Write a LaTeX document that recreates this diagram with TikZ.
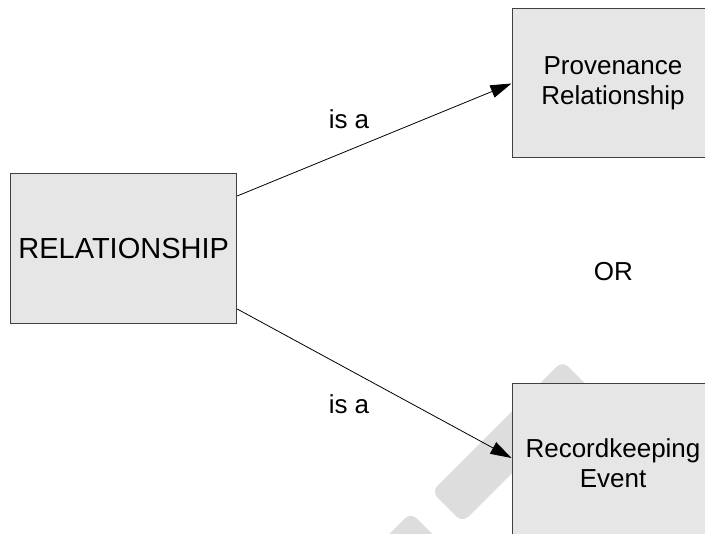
\documentclass[tikz,border=0pt]{standalone}
\usepackage{fontspec}
\setmainfont{Liberation Sans}
\usetikzlibrary{arrows.meta}
\definecolor{boxfill}{HTML}{E6E6E6}
\definecolor{boxline}{HTML}{404040}
\definecolor{mark}{HTML}{DDDDDD}
\begin{document}
\begin{tikzpicture}[x=1pt,y=-1pt,
  entity/.style={draw=boxline, line width=1pt, fill=boxfill, inner sep=0pt,
    minimum width=202pt, minimum height=149pt, align=center,
    font=\fontsize{26}{30}\selectfont},
  relbox/.style={entity, minimum width=226pt, minimum height=150pt,
    font=\fontsize{29}{33}\selectfont},
  lbl/.style={anchor=base, inner sep=0pt, font=\fontsize{26}{30}\selectfont},
  isa/.style={draw=black, line width=0.8pt,
    -{Triangle[length=21pt,width=13pt]}},
  stripe/.style={fill=mark, rounded corners=8pt}]
  \useasboundingbox (0,0) rectangle (705,534);
  \clip (0,0) rectangle (705,534);

  % faint diagonal stripes in the background
  \fill[stripe, rotate around={45:(512.5,441.7)}]
    (420,419.9) rectangle (605,463.5);
  \fill[stripe, rotate around={45:(360.9,593.4)}]
    (268.4,571.6) rectangle (453.4,615.2);

  % entities
  \node[relbox] (rel) at (123.7,249) {RELATIONSHIP};
  \node[entity] (prov) at (613,83.5) {Provenance\\Relationship};
  \node[entity, minimum height=160pt] (rk) at (613,464)
    {\raisebox{2pt}{Recordkeeping}\\\raisebox{2pt}{Event}};
  \coordinate (rkin) at ([yshift=6pt]rk.west);

  % labels
  \node[lbl] (isatop) at (349,129) {is a};
  \node[lbl] (isabot) at (349,413.3) {is a};
  \node[lbl] (or) at (613.4,280.7) {OR};

  % connectors
  \draw[isa] ([yshift=53pt]rel.east) -- (prov.west);
  \draw[isa] ([yshift=-60pt]rel.east) -- (rkin);
\end{tikzpicture}
\end{document}
